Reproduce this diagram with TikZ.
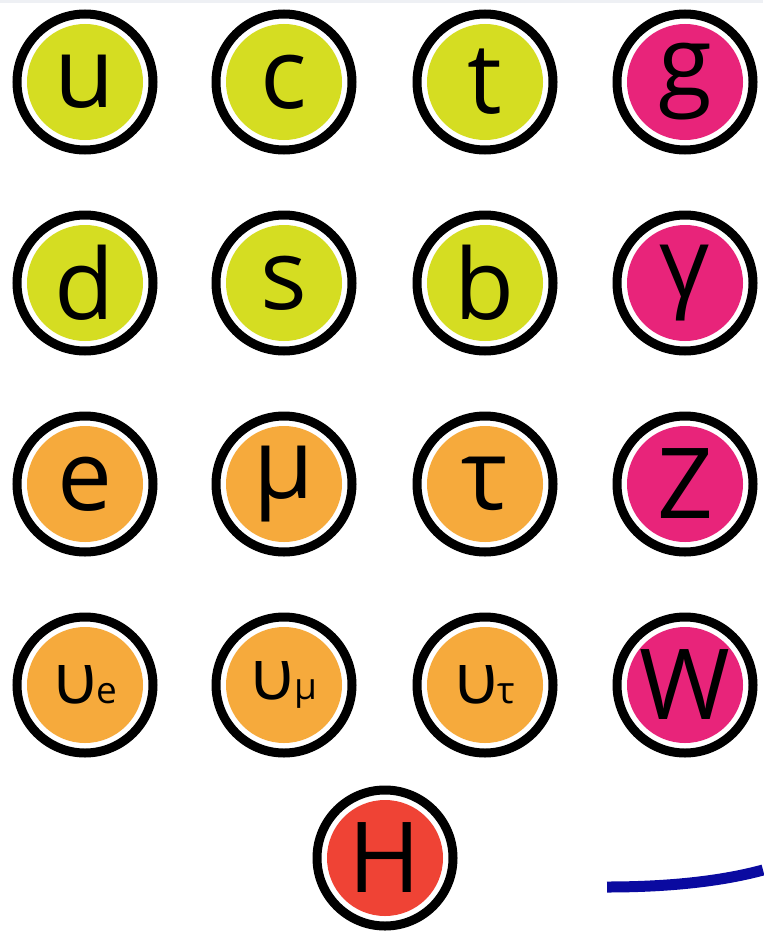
\documentclass[tikz,border=0pt]{standalone}
\usepackage{fontspec}
\setmainfont{Open Sans}
\definecolor{quarkc}{HTML}{D5DD22}
\definecolor{bosonc}{HTML}{E8247A}
\definecolor{leptonc}{HTML}{F6AA3C}
\definecolor{higgsc}{HTML}{EF4335}
\definecolor{bluec}{HTML}{0A0AA0}
\definecolor{topband}{HTML}{EEF0F4}
\begin{document}
\begin{tikzpicture}[x=1pt,y=-1pt,
  particle/.style={circle, fill=#1, inner sep=0pt, minimum size=116pt, text=black},
  big/.style={font=\fontsize{98}{98}\selectfont},
  nu/.style={font=\fontsize{71}{71}\selectfont},
  ring/.style={draw=black, line width=9pt}]
\useasboundingbox (0,0) rectangle (763,934);
\fill[white] (0,0) rectangle (763,934);
\fill[topband] (0,0) rectangle (763,3);
% row 1
\node[particle=quarkc, big] (u) at (85,82) {u};
\node[particle=quarkc, big] (c) at (284,82) {c};
\node[particle=quarkc, big] (t) at (485,82) {t};
\node[particle=bosonc, big] (g) at (685,82) {g};
% row 2
\node[particle=quarkc, big] (d) at (85,283) {d};
\node[particle=quarkc, big] (s) at (284,283) {s};
\node[particle=quarkc, big] (b) at (485,283) {b};
\node[particle=bosonc, big] (gam) at (685,283) {γ};
% row 3
\node[particle=leptonc, big] (e) at (85,484) {e};
\node[particle=leptonc, big] (mu) at (284,484) {μ};
\node[particle=leptonc, big] (tau) at (485,484) {τ};
\node[particle=bosonc, big] (Z) at (685,484) {Z};
% row 4
\node[particle=leptonc, nu] (nue) at (85,685) {υ\fontsize{37}{37}\selectfont e};
\node[particle=leptonc, nu] (numu) at (284,685) {υ\fontsize{37}{37}\selectfont μ};
\node[particle=leptonc, nu] (nutau) at (485,685) {υ\fontsize{37}{37}\selectfont τ};
\node[particle=bosonc, big] (W) at (685,685) {W};
% Higgs
\node[particle=higgsc, big] (H) at (385,858) {H};
% rings
\foreach \n in {u,c,t,g,d,s,b,gam,e,mu,tau,Z,nue,numu,nutau,W,H}
  \draw[ring] (\n.center) circle[radius=68pt];
% blue stroke
\coordinate (bl) at (607,887);
\coordinate (br) at (763,870);
\draw[bluec, line width=11pt] (bl) .. controls (680,887) and (730,879) .. (br);
\end{tikzpicture}
\end{document}
